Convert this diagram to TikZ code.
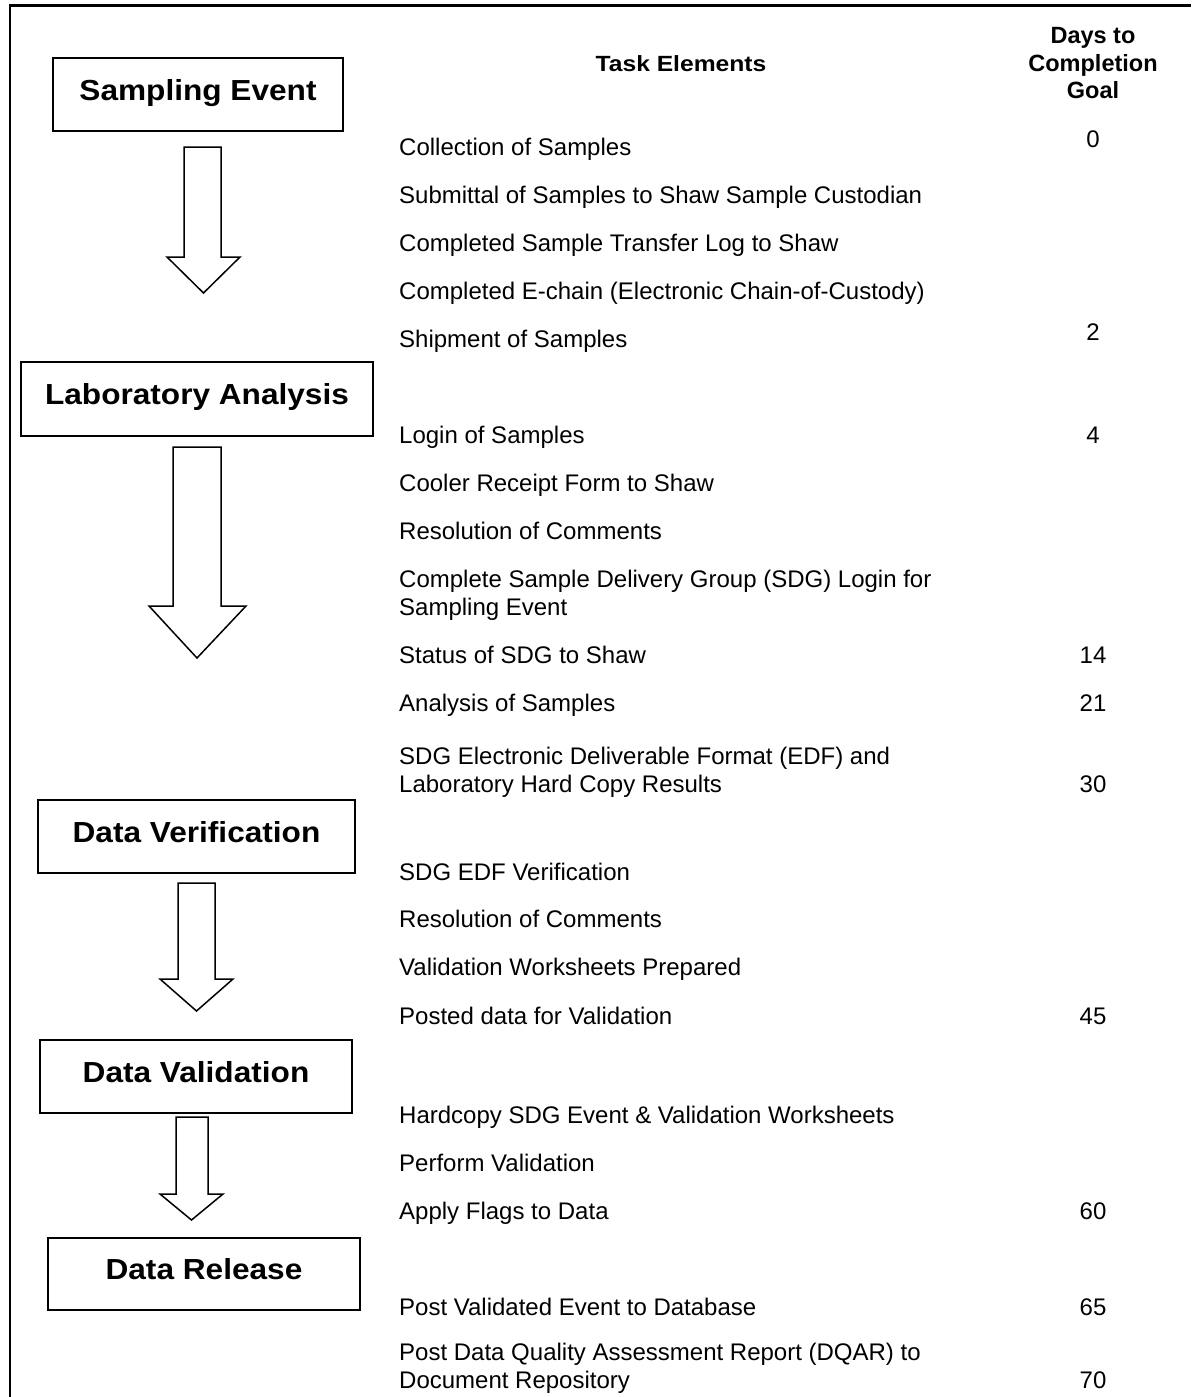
\documentclass[tikz,border=0pt]{standalone}
\usepackage{fontspec}
\setmainfont{Liberation Sans}
\newfontfamily\widefont[FakeStretch=1.09]{Liberation Sans}
\newfontfamily\wideheadfont[FakeStretch=1.12]{Liberation Sans}
\begin{document}
\begin{tikzpicture}[x=1pt,y=-1pt,
  stage/.style={draw, line width=1.5pt, inner sep=0pt, text height=21pt, text depth=10pt,
    font=\widefont\fontsize{29}{34}\selectfont\bfseries},
  task/.style={anchor=base west, inner sep=0pt, align=left, font=\fontsize{24}{28}\selectfont},
  days/.style={anchor=base, inner sep=0pt, font=\fontsize{24}{28}\selectfont},
  head/.style={anchor=base, inner sep=0pt, align=center, font=\fontsize{23.5}{27.5}\selectfont\bfseries},
  blockarrow/.style={draw, line width=1.5pt, fill=white, line join=miter}]
\useasboundingbox (0,0) rectangle (1191,1397);
\draw[line width=2.5pt] (10,1397) -- (10,5.5) -- (1191,5.5);

% stage boxes
\node[stage, minimum width=290pt, minimum height=73pt] (se) at (198,94.5) {Sampling Event};
\node[stage, minimum width=352pt, minimum height=74pt] (la) at (197,399) {Laboratory Analysis};
\node[stage, minimum width=317pt, minimum height=73pt] (dver) at (196.5,836.5) {Data Verification};
\node[stage, minimum width=312pt, minimum height=73pt] (dval) at (196,1076.5) {Data Validation};
\node[stage, minimum width=312pt, minimum height=72pt] (dr) at (204,1274) {Data Release};

% block arrows
\draw[blockarrow] (184,147) -- (221,147) -- (221,257) -- (240,257) -- (203.5,293) -- (167,257) -- (184,257) -- cycle;
\draw[blockarrow] (173,447) -- (221,447) -- (221,606) -- (246,606) -- (197,658) -- (149,606) -- (173,606) -- cycle;
\draw[blockarrow] (178,883) -- (215,883) -- (215,979) -- (233,979) -- (196.5,1011) -- (160,979) -- (178,979) -- cycle;
\draw[blockarrow] (176,1117) -- (208,1117) -- (208,1194) -- (223,1194) -- (191.5,1220) -- (160,1194) -- (176,1194) -- cycle;

% headers
\node[anchor=base, inner sep=0pt, font=\wideheadfont\fontsize{22}{26}\selectfont\bfseries] (hte) at (681,71.5) {Task Elements};
\node[head] (hdays) at (1093,99) {Days to\\Completion\\Goal};

% task elements (multi-line nodes are placed by the baseline of their last line)
\node[task] (t1) at (399,155) {Collection of Samples};
\node[task] (t2) at (399,203) {Submittal of Samples to Shaw Sample Custodian};
\node[task] (t3) at (399,251) {Completed Sample Transfer Log to Shaw};
\node[task] (t4) at (399,299) {Completed E-chain (Electronic Chain-of-Custody)};
\node[task] (t5) at (399,347) {Shipment of Samples};
\node[task] (t6) at (399,443) {Login of Samples};
\node[task] (t7) at (399,491) {Cooler Receipt Form to Shaw};
\node[task] (t8) at (399,539) {Resolution of Comments};
\node[task] (t9) at (399,615) {Complete Sample Delivery Group (SDG) Login for\\Sampling Event};
\node[task] (t10) at (399,663) {Status of SDG to Shaw};
\node[task] (t11) at (399,711) {Analysis of Samples};
\node[task] (t12) at (399,792) {SDG Electronic Deliverable Format (EDF) and\\Laboratory Hard Copy Results};
\node[task] (t13) at (399,880) {SDG EDF Verification};
\node[task] (t14) at (399,927) {Resolution of Comments};
\node[task] (t15) at (399,975) {Validation Worksheets Prepared};
\node[task] (t16) at (399,1024) {Posted data for Validation};
\node[task] (t17) at (399,1123) {Hardcopy SDG Event \& Validation Worksheets};
\node[task] (t18) at (399,1171) {Perform Validation};
\node[task] (t19) at (399,1219) {Apply Flags to Data};
\node[task] (t20) at (399,1315) {Post Validated Event to Database};
\node[task] (t21) at (399,1388) {Post Data Quality Assessment Report (DQAR) to\\Document Repository};

% days
\node[days] (d0) at (1093,147) {0};
\node[days] (d2) at (1093,340) {2};
\node[days] (d4) at (1093,443) {4};
\node[days] (d14) at (1093,663) {14};
\node[days] (d21) at (1093,711) {21};
\node[days] (d30) at (1093,792) {30};
\node[days] (d45) at (1093,1024) {45};
\node[days] (d60) at (1093,1219) {60};
\node[days] (d65) at (1093,1315) {65};
\node[days] (d70) at (1093,1388) {70};
\end{tikzpicture}
\end{document}
